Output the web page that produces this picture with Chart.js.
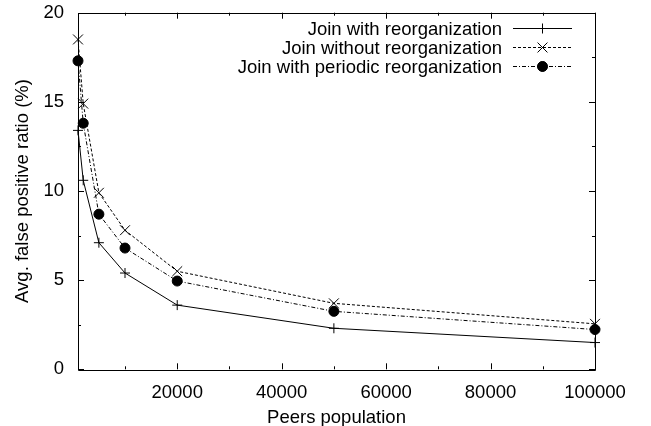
<!DOCTYPE html>
<html>
<head>
<meta charset="utf-8">
<script src="https://cdn.jsdelivr.net/npm/chart.js@4/dist/chart.umd.min.js"></script>
<style>
  html, body { margin: 0; padding: 0; background: #fff; }
  #wrap { width: 651px; height: 426px; }
</style>
</head>
<body>
<div id="wrap"><canvas id="chart" width="651" height="426"></canvas></div>
<script>
// Peers population (x) for every measured point
const peers = [1000, 2000, 5000, 10000, 20000, 50000, 100000];

// Avg. false positive ratio (%) per series
const withReorg = [13.4, 10.6, 7.1, 5.4, 3.6, 2.3, 1.5];
const withoutReorg = [18.5, 14.9, 9.9, 7.8, 5.5, 3.7, 2.55];
const periodicReorg = [17.3, 13.8, 8.7, 6.8, 4.95, 3.25, 2.23];

// Tick labels (major) and minor tick positions
const xTicks = [20000, 40000, 60000, 80000, 100000];
const xMinorTicks = [10000, 30000, 50000, 70000, 90000];
const yTicks = [0, 5, 10, 15, 20];
const yMinorTicks = [2.5, 7.5, 12.5, 17.5];

const FONT = 'Liberation Sans, Arial, Helvetica, sans-serif';

const seriesStyles = [
  { label: 'Join with reorganization', data: withReorg, dash: [], pointStyle: 'cross', radius: 5 },
  { label: 'Join without reorganization', data: withoutReorg, dash: [3, 2], pointStyle: 'crossRot', radius: 7 },
  { label: 'Join with periodic reorganization', data: periodicReorg, dash: [4, 2, 1, 2], pointStyle: 'circle', radius: 5 },
];

function toPoints(values) {
  return peers.map((p, i) => ({ x: p, y: values[i] }));
}

// Frame and inward ticks on all four sides, like gnuplot
const frameTicks = {
  id: 'frameTicks',
  afterDatasetsDraw(chart) {
    const { ctx, chartArea: a, scales: { x, y } } = chart;
    ctx.save();
    ctx.strokeStyle = '#000';
    ctx.lineWidth = 1;
    ctx.beginPath();
    ctx.rect(Math.round(a.left) + 0.5, Math.round(a.top) + 0.5,
      Math.round(a.right - a.left), Math.round(a.bottom - a.top));
    ctx.stroke();

    const tickX = (v, len) => {
      const px = Math.round(x.getPixelForValue(v)) + 0.5;
      ctx.moveTo(px, a.bottom); ctx.lineTo(px, a.bottom - len);
      ctx.moveTo(px, a.top); ctx.lineTo(px, a.top + len);
    };
    const tickY = (v, len) => {
      const py = Math.round(y.getPixelForValue(v)) + 0.5;
      ctx.moveTo(a.left, py); ctx.lineTo(a.left + len, py);
      ctx.moveTo(a.right, py); ctx.lineTo(a.right - len, py);
    };
    ctx.beginPath();
    xTicks.forEach((v) => tickX(v, 6));
    xMinorTicks.forEach((v) => tickX(v, 3));
    yTicks.forEach((v) => tickY(v, 6));
    yMinorTicks.forEach((v) => tickY(v, 3));
    ctx.stroke();
    ctx.restore();
  },
};

// Key in the top right corner: right-aligned text, then a line sample with its marker
const gnuplotKey = {
  id: 'gnuplotKey',
  afterDraw(chart) {
    const { ctx, chartArea: a } = chart;
    const textRight = a.right - 93;
    const lineStart = a.right - 82;
    const lineEnd = a.right - 23;
    ctx.save();
    ctx.font = '18.5px ' + FONT;
    ctx.textAlign = 'right';
    ctx.textBaseline = 'middle';
    seriesStyles.forEach((s, i) => {
      const yy = Math.round(a.top + 15 + i * 19) + 0.5;
      ctx.fillStyle = '#000';
      ctx.fillText(s.label, textRight, yy + 1);
      ctx.strokeStyle = '#000';
      ctx.lineWidth = 1;
      ctx.setLineDash(s.dash);
      ctx.beginPath();
      ctx.moveTo(lineStart, yy);
      ctx.lineTo(lineEnd, yy);
      ctx.stroke();
      ctx.setLineDash([]);
      Chart.helpers.drawPoint(ctx, {
        pointStyle: s.pointStyle, radius: s.radius, rotation: 0, borderWidth: 1,
      }, (lineStart + lineEnd) / 2, yy);
      if (s.pointStyle === 'circle') {
        ctx.fill();
      }
    });
    ctx.restore();
  },
};

new Chart(document.getElementById('chart'), {
  type: 'line',
  data: {
    datasets: seriesStyles.map((s) => ({
      label: s.label,
      data: toPoints(s.data),
      borderColor: '#000',
      backgroundColor: '#000',
      borderWidth: 1,
      borderDash: s.dash,
      pointStyle: s.pointStyle,
      pointRadius: s.radius,
      pointBorderWidth: 1,
      pointBorderColor: '#000',
      pointBackgroundColor: '#000',
      tension: 0,
      fill: false,
      clip: false,
    })),
  },
  options: {
    responsive: false,
    animation: false,
    events: [],
    layout: { padding: { top: 12.7, right: 56, left: 0, bottom: 0 } },
    plugins: {
      legend: { display: false },
      tooltip: { enabled: false },
    },
    scales: {
      x: {
        type: 'linear',
        min: 1000,
        max: 100000,
        afterFit: (scale) => { scale.height = 56.7; },
        afterBuildTicks: (scale) => { scale.ticks = xTicks.map((v) => ({ value: v })); },
        grid: { display: false, drawTicks: false },
        border: { display: false },
        ticks: {
          color: '#000',
          font: { family: FONT, size: 18.5 },
          padding: 13,
          maxRotation: 0,
          callback: (v) => String(v),
        },
        title: {
          display: true,
          text: 'Peers population',
          color: '#000',
          font: { family: FONT, size: 18.5, lineHeight: 1.0 },
          padding: { top: 0, bottom: -1 },
        },
      },
      y: {
        type: 'linear',
        min: 0,
        max: 20,
        afterFit: (scale) => {
          scale.width = 78;
          scale.paddingTop = 0;
          scale.paddingBottom = 0;
        },
        afterBuildTicks: (scale) => { scale.ticks = yTicks.map((v) => ({ value: v })); },
        grid: { display: false, drawTicks: false },
        border: { display: false },
        ticks: {
          color: '#000',
          font: { family: FONT, size: 18.5 },
          padding: 14,
        },
        title: {
          display: true,
          text: 'Avg. false positive ratio (%)',
          color: '#000',
          font: { family: FONT, size: 18.5, lineHeight: 1.2 },
          padding: { top: 12, bottom: 0 },
        },
      },
    },
  },
  plugins: [frameTicks, gnuplotKey],
});
</script>
</body>
</html>
